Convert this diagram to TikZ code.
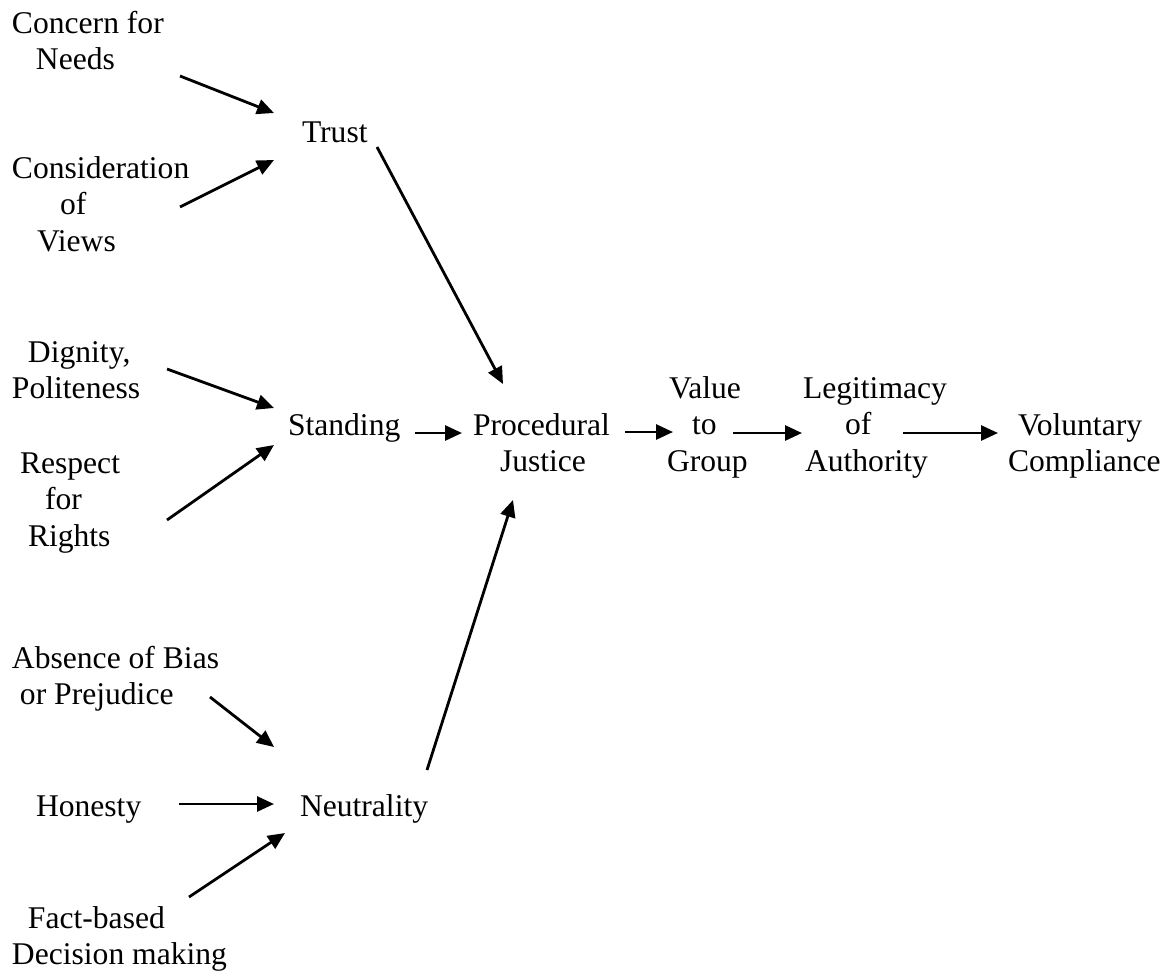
\documentclass[tikz,border=0pt]{standalone}
\usepackage{fontspec}
\setmainfont{Liberation Serif}
\usetikzlibrary{arrows.meta}
\tikzset{
  lbl/.style={anchor=north west, inner sep=0pt, outer sep=0pt, align=left,
    font=\fontsize{31.6}{36.5}\selectfont},
  arr/.style={line width=2.8pt, -{Triangle[length=17pt,width=15pt]}}
}
\begin{document}
\begin{tikzpicture}[x=1pt,y=-1pt]
\useasboundingbox (0,0) rectangle (1174,972);
% labels
\node[lbl] (cn) at (12,7.45) {\strut Concern for\\\hspace*{24pt}Needs};
\node[lbl] (tr) at (302,116.45) {\strut Trust};
\node[lbl] (cv) at (12,152.45) {\strut Consideration\\\hspace*{48pt}of\\\hspace*{25pt}Views};
\node[lbl] (dp) at (12,336.45) {\strut\hspace*{16pt}Dignity,\\Politeness};
\node[lbl] (st) at (288,409.45) {\strut Standing};
\node[lbl] (rr) at (20,447.45) {\strut Respect\\\hspace*{25pt}for\\\hspace*{8pt}Rights};
\node[lbl] (pj) at (473,409.45) {\strut Procedural\\\hspace*{27pt}Justice};
\node[lbl] (vg) at (667,372.45) {\strut\hspace*{2pt}Value\\\hspace*{25pt}to\\Group};
\node[lbl] (la) at (803,372.45) {\strut Legitimacy\\\hspace*{42pt}of\\\hspace*{2pt}Authority};
\node[lbl] (vc) at (1008,409.45) {\strut\hspace*{10pt}Voluntary\\Compliance};
\node[lbl] (ab) at (12,642.45) {\strut Absence of Bias\\\hspace*{8pt}or Prejudice};
\node[lbl] (ho) at (36,790.45) {\strut Honesty};
\node[lbl] (ne) at (300,790.45) {\strut Neutrality};
\node[lbl] (fd) at (12,902.45) {\strut\hspace*{16pt}Fact-based\\Decision making};
% connectors
\draw[arr] ([shift={(168,68.55)}]cn.north west) -- ([shift={(-28,-3.45)}]tr.north west);
\draw[arr] ([shift={(168,54.55)}]cv.north west) -- ([shift={(-28,43.55)}]tr.north west);
\draw[arr] ([shift={(75,30.55)}]tr.north west) -- ([shift={(30,-25.45)}]pj.north west);
\draw[arr] ([shift={(155,32.55)}]dp.north west) -- ([shift={(-14,-1.45)}]st.north west);
\draw[arr] ([shift={(147,72.55)}]rr.north west) -- ([shift={(-14,35.55)}]st.north west);
\draw[arr] ([shift={(127,23.55)}]st.north west) -- ([shift={(-11,23.55)}]pj.north west);
\draw[arr] ([shift={(152,22.55)}]pj.north west) -- ([shift={(6,59.55)}]vg.north west);
\draw[arr] ([shift={(66,60.55)}]vg.north west) -- ([shift={(-1,60.55)}]la.north west);
\draw[arr] ([shift={(100,60.55)}]la.north west) -- ([shift={(-10,23.55)}]vc.north west);
\draw[arr] ([shift={(198,54.55)}]ab.north west) -- ([shift={(-26,-43.45)}]ne.north west);
\draw[arr] ([shift={(143,13.55)}]ho.north west) -- ([shift={(-26,13.55)}]ne.north west);
\draw[arr] ([shift={(177,-5.45)}]fd.north west) -- ([shift={(-15,42.55)}]ne.north west);
\draw[arr] ([shift={(127,-20.45)}]ne.north west) -- ([shift={(40,90.55)}]pj.north west);
\end{tikzpicture}
\end{document}
